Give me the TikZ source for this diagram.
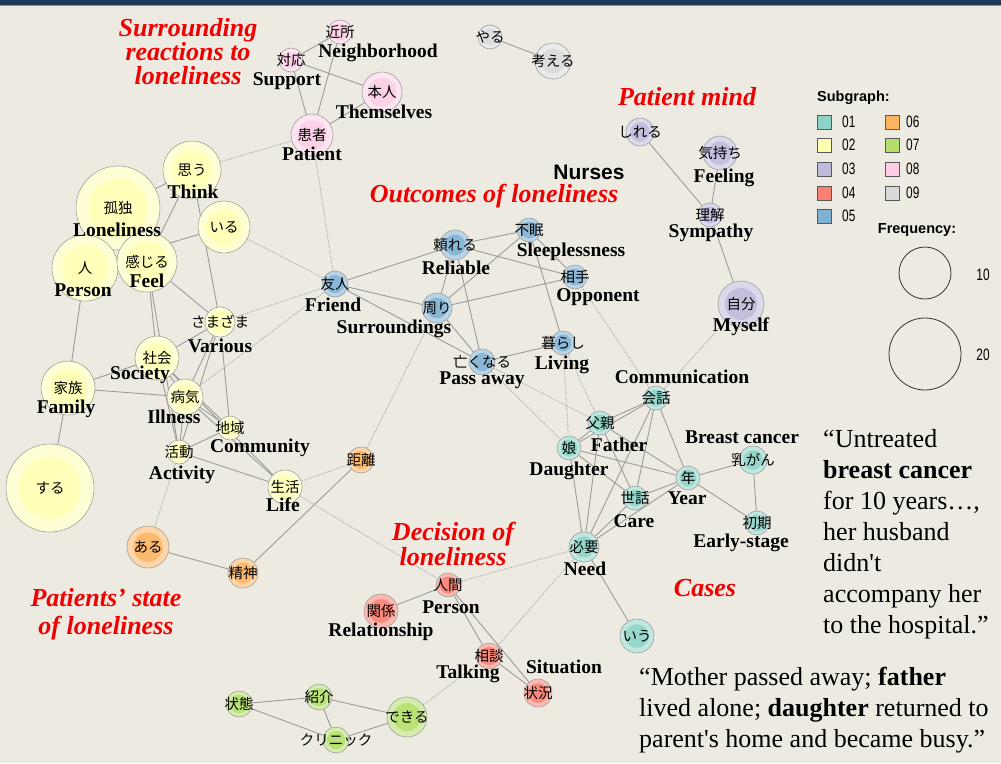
\documentclass[tikz,border=0pt]{standalone}
\usepackage{fontspec}
\setmainfont{Liberation Serif}[Ligatures=TeXOff]
\newfontfamily\jpfont{Noto Sans CJK JP}
\newfontfamily\sansfont{Liberation Sans}
\newfontfamily\narrowfont[FakeStretch=0.72]{Liberation Sans}
\definecolor{c01}{HTML}{8DD3C7}
\definecolor{c02}{HTML}{FFFFB3}
\definecolor{c03}{HTML}{BEBADA}
\definecolor{c04}{HTML}{FB8072}
\definecolor{c05}{HTML}{80B1D3}
\definecolor{c06}{HTML}{FDB462}
\definecolor{c07}{HTML}{B3DE69}
\definecolor{c08}{HTML}{FCCDE5}
\definecolor{c09}{HTML}{D9D9D9}
\definecolor{paperc}{RGB}{237,235,225}
\definecolor{framec}{HTML}{1F3A56}
\definecolor{titlered}{RGB}{240,0,0}
\definecolor{edgec}{RGB}{155,155,155}
\definecolor{dotc}{RGB}{168,168,168}
\pgfdeclarelayer{paper}
\pgfdeclarelayer{links}
\pgfsetlayers{paper,links,main}
\newcommand\kwnode[6]{%
  \node[kwout, minimum size=#4*2pt, fill=#5!55!white] (#1) at (#2,#3) {};
  \fill[#5!92!white] (#1.center) circle[radius=#4*0.7pt];
  \node[jp] (#1-t) at (#1.center) {#6};}
\begin{document}
\begin{tikzpicture}[x=1pt,y=-1pt,
  kwout/.style={circle, draw=gray!75, line width=0.6pt, inner sep=0pt},
  jp/.style={font=\jpfont\fontsize{14.5}{14.5}\selectfont, inner sep=0pt},
  lab/.style={font=\bfseries\fontsize{19.5}{20}\selectfont, inner sep=0pt},
  ttl/.style={font=\bfseries\itshape\fontsize{26}{24}\selectfont, text=titlered, inner sep=0pt, align=center},
  quote/.style={font=\fontsize{26}{31}\selectfont, inner sep=0pt, anchor=base west},
  sedge/.style={draw=edgec, line width=0.9pt},
  dedge/.style={draw=dotc, line width=1pt, dash pattern=on 1pt off 1.3pt},
  legsq/.style={draw=gray!70!black, line width=0.5pt, minimum size=14pt, inner sep=0pt},
  legnum/.style={font=\narrowfont\fontsize{16.5}{16.5}\selectfont, inner sep=0pt, anchor=west},
  legttl/.style={font=\sansfont\bfseries\fontsize{14.5}{15}\selectfont, inner sep=0pt},
  freqc/.style={circle, draw=black!80, line width=0.8pt, inner sep=0pt}]
\useasboundingbox (0,0) rectangle (1001,763);
\begin{pgfonlayer}{paper}
\fill[paperc] (0,0) rectangle (1001,763);
\fill[framec] (0,0) rectangle (1001,5);
\draw[framec!55!white, line width=0.8pt] (0,5) -- (1001,5);
\end{pgfonlayer}

% ---- pink 08
\kwnode{kinjo}{340}{32}{12}{c08}{近所}
\kwnode{taiou}{291}{60}{12}{c08}{対応}
\kwnode{honnin}{382}{92}{20}{c08}{本人}
\kwnode{kanja}{312}{135}{21}{c08}{患者}
\node[lab] (kinjo-l) at (378,53) {Neighborhood};
\node[lab] (taiou-l) at (287,81) {Support};
\node[lab] (honnin-l) at (384,112) {Themselves};
\node[lab] (kanja-l) at (312,154) {Patient};
% ---- gray 09
\kwnode{yaru}{490}{37}{12}{c09}{やる}
\kwnode{kangaeru}{553}{61}{18}{c09}{考える}
% ---- yellow 02
\kwnode{kodoku}{118}{208}{42}{c02}{孤独}
\kwnode{omou}{192}{170}{29}{c02}{思う}
\kwnode{iru}{224}{227}{26}{c02}{いる}
\kwnode{hito}{85}{268}{33}{c02}{人}
\kwnode{kanjiru}{147}{262}{30}{c02}{感じる}
\kwnode{samazama}{220}{322}{15}{c02}{さまざま}
\kwnode{shakai}{157}{358}{22}{c02}{社会}
\kwnode{kazoku}{68}{388}{27}{c02}{家族}
\kwnode{byouki}{185}{397}{18}{c02}{病気}
\kwnode{chiiki}{230}{428}{12}{c02}{地域}
\kwnode{katsudou}{179}{452}{12}{c02}{活動}
\kwnode{seikatsu}{285}{487}{17}{c02}{生活}
\kwnode{suru}{50}{488}{44}{c02}{する}
\node[lab] (kodoku-l) at (117,230) {Loneliness};
\node[lab] (omou-l) at (193,192) {Think};
\node[lab] (hito-l) at (83,290) {Person};
\node[lab] (kanjiru-l) at (147,281) {Feel};
\node[lab] (samazama-l) at (220,346) {Various};
\node[lab] (shakai-l) at (140,375) {Society};
\node[lab] (kazoku-l) at (66,409) {Family};
\node[lab] (byouki-l) at (174,417) {Illness};
\node[lab] (chiiki-l) at (260,448) {Community};
\node[lab] (katsudou-l) at (182,475) {Activity};
\node[lab] (seikatsu-l) at (283,505) {Life};
% ---- orange 06
\kwnode{kyori}{361}{460}{13}{c06}{距離}
\kwnode{aru}{148}{547}{21}{c06}{ある}
\kwnode{seishin}{243}{573}{15}{c06}{精神}
% ---- blue 05
\kwnode{yuujin}{335}{284}{13}{c05}{友人}
\kwnode{tayoreru}{455}{245}{15}{c05}{頼れる}
\kwnode{fumin}{529}{230}{12}{c05}{不眠}
\kwnode{aite}{575}{277}{12}{c05}{相手}
\kwnode{mawari}{437}{308}{15}{c05}{周り}
\kwnode{nakunaru}{482}{362}{13}{c05}{亡くなる}
\kwnode{kurashi}{563}{343}{12}{c05}{暮らし}
\node[lab] (yuujin-l) at (333,305) {Friend};
\node[lab] (tayoreru-l) at (456,268) {Reliable};
\node[lab] (fumin-l) at (571,252) {Sleeplessness};
\node[lab] (aite-l) at (598,297) {Opponent};
\node[lab] (mawari-l) at (394,329) {Surroundings};
\node[lab] (nakunaru-l) at (482,380) {Pass away};
\node[lab] (kurashi-l) at (562,365) {Living};
% ---- purple 03
\kwnode{shireru}{640}{132}{14}{c03}{しれる}
\kwnode{kimochi}{720}{153}{17}{c03}{気持ち}
\kwnode{rikai}{710}{215}{12}{c03}{理解}
\kwnode{jibun}{741}{304}{23}{c03}{自分}
\node[lab] (kimochi-l) at (724,178) {Feeling};
\node[lab] (rikai-l) at (711,233) {Sympathy};
\node[lab] (jibun-l) at (741,327) {Myself};
% ---- teal 01
\kwnode{kaiwa}{656}{398}{12}{c01}{会話}
\kwnode{chichi}{600}{423}{12}{c01}{父親}
\kwnode{musume}{569}{448}{12}{c01}{娘}
\kwnode{toshi}{688}{478}{12}{c01}{年}
\kwnode{nyugan}{753}{460}{14}{c01}{乳がん}
\kwnode{sewa}{635}{498}{12}{c01}{世話}
\kwnode{shoki}{757}{523}{12}{c01}{初期}
\kwnode{hitsuyou}{584}{547}{15}{c01}{必要}
\kwnode{iu}{637}{636}{17}{c01}{いう}
\node[lab] (kaiwa-l) at (682,377) {Communication};
\node[lab] (chichi-l) at (619,445) {Father};
\node[lab] (musume-l) at (569,471) {Daughter};
\node[lab] (toshi-l) at (687,498) {Year};
\node[lab] (nyugan-l) at (742,437) {Breast cancer};
\node[lab] (sewa-l) at (634,521) {Care};
\node[lab] (shoki-l) at (741,543) {Early-stage};
\node[lab] (hitsuyou-l) at (585,569) {Need};
% ---- red 04
\kwnode{ningen}{448}{585}{12}{c04}{人間}
\kwnode{kankei}{381}{611}{17}{c04}{関係}
\kwnode{soudan}{489}{656}{13}{c04}{相談}
\kwnode{joukyou}{538}{693}{14}{c04}{状況}
\node[lab] (ningen-l) at (451,607) {Person};
\node[lab] (kankei-l) at (381,632) {Relationship};
\node[lab] (soudan-l) at (468,674) {Talking};
\node[lab] (joukyou-l) at (564,667) {Situation};
% ---- green 07
\kwnode{joutai}{239}{704}{13}{c07}{状態}
\kwnode{shoukai}{319}{697}{13}{c07}{紹介}
\kwnode{dekiru}{407}{717}{20}{c07}{できる}
\kwnode{clinic}{336}{740}{13}{c07}{クリニック}

% ---- titles
\node[ttl] (t-surr) at (188,52) {Surrounding\\reactions to\\loneliness};
\node[ttl] (t-mind) at (687,97) {Patient mind};
\node[font=\sansfont\bfseries\fontsize{21}{21}\selectfont, inner sep=0pt] (t-nurses) at (589,172) {Nurses};
\node[ttl] (t-out) at (494,196) {Outcomes of loneliness};
\node[ttl, font=\bfseries\itshape\fontsize{26}{28}\selectfont] (t-state) at (106,614) {Patients’ state\\of loneliness};
\node[ttl, font=\bfseries\itshape\fontsize{26}{25}\selectfont] (t-dec) at (453,544) {Decision of\\loneliness};
\node[ttl] (t-cases) at (705,588) {Cases};

% ---- quotes
\node[quote] (q1a) at (823,447) {“Untreated};
\node[quote] (q1b) at (823,478) {\textbf{breast cancer}};
\node[quote] (q1c) at (823,509) {for 10 years…,};
\node[quote] (q1d) at (823,540) {her husband};
\node[quote] (q1e) at (823,571) {didn't};
\node[quote] (q1f) at (823,602) {accompany her};
\node[quote] (q1g) at (823,633) {to the hospital.”};
\node[quote] (q2a) at (639,685) {“Mother passed away; \textbf{father}};
\node[quote] (q2b) at (639,716) {lived alone; \textbf{daughter} returned to};
\node[quote] (q2c) at (639,747) {parent's home and became busy.”};

% ---- legend
\node[legttl, anchor=west] (lg-t) at (817,98) {Subgraph:};
\node[legsq, fill=c01] (lg1) at (824.5,122) {};
\node[legsq, fill=c02] (lg2) at (824.5,145) {};
\node[legsq, fill=c03] (lg3) at (824.5,169) {};
\node[legsq, fill=c04] (lg4) at (824.5,193) {};
\node[legsq, fill=c05] (lg5) at (824.5,216) {};
\node[legsq, fill=c06] (lg6) at (892,122) {};
\node[legsq, fill=c07] (lg7) at (892,145) {};
\node[legsq, fill=c08] (lg8) at (892,169) {};
\node[legsq, fill=c09] (lg9) at (892,193) {};
\node[legnum] (lg1t) at (842,122) {01};
\node[legnum] (lg2t) at (842,145) {02};
\node[legnum] (lg3t) at (842,169) {03};
\node[legnum] (lg4t) at (842,193) {04};
\node[legnum] (lg5t) at (842,216) {05};
\node[legnum] (lg6t) at (906,122) {06};
\node[legnum] (lg7t) at (906,145) {07};
\node[legnum] (lg8t) at (906,169) {08};
\node[legnum] (lg9t) at (906,193) {09};
\node[legttl] (fq-t) at (917,230) {Frequency:};
\node[freqc, minimum size=52pt] (fq10) at (925,273) {};
\node[freqc, minimum size=72pt] (fq20) at (925,354) {};
\node[legnum, anchor=center] (fq10t) at (983,275) {10};
\node[legnum, anchor=center] (fq20t) at (983,355) {20};

% ---- edges
\begin{pgfonlayer}{links}
\foreach \a/\b in {kinjo/taiou, kinjo/kanja, taiou/honnin, taiou/kanja, honnin/kanja,
  yaru/kangaeru,
  kodoku/omou, kodoku/hito, kodoku/kanjiru, omou/kanjiru, omou/samazama, hito/iru, hito/kanjiru,
  hito/kazoku, kazoku/suru, kazoku/shakai, kazoku/byouki, kanjiru/shakai, kanjiru/katsudou,
  kanjiru/samazama, shakai/samazama, shakai/byouki, shakai/katsudou, shakai/chiiki, shakai/seikatsu,
  samazama/byouki, samazama/katsudou, samazama/chiiki, byouki/chiiki, byouki/seikatsu,
  byouki/katsudou, chiiki/katsudou, katsudou/seikatsu,
  aru/seishin, seishin/kyori,
  yuujin/tayoreru, yuujin/mawari, yuujin/nakunaru, tayoreru/fumin, tayoreru/aite, tayoreru/mawari,
  tayoreru/nakunaru, fumin/mawari, fumin/aite, fumin/kurashi, mawari/aite, mawari/nakunaru,
  nakunaru/kurashi,
  shireru/rikai, kimochi/rikai, rikai/jibun,
  kaiwa/chichi, kaiwa/musume, kaiwa/hitsuyou, kaiwa/sewa, kaiwa/toshi, chichi/musume,
  chichi/hitsuyou, chichi/sewa, chichi/toshi, musume/toshi, musume/sewa, musume/hitsuyou,
  toshi/nyugan, toshi/shoki, toshi/sewa, toshi/hitsuyou, sewa/hitsuyou, nyugan/shoki, hitsuyou/iu,
  ningen/kankei, ningen/soudan, ningen/joukyou, soudan/joukyou,
  joutai/shoukai, joutai/clinic, shoukai/dekiru, shoukai/clinic, clinic/dekiru}
  \draw[sedge] (\a) -- (\b);
\foreach \a/\b in {omou/kanja, kanja/yuujin, iru/yuujin, yuujin/samazama, yuujin/byouki,
  mawari/kyori, kyori/seikatsu, seikatsu/ningen, katsudou/aru, ningen/hitsuyou, soudan/hitsuyou,
  dekiru/soudan, nakunaru/musume, nakunaru/chichi, kurashi/musume, kurashi/chichi,
  aite/kaiwa, jibun/kaiwa}
  \draw[dedge] (\a) -- (\b);
\end{pgfonlayer}
\end{tikzpicture}
\end{document}
